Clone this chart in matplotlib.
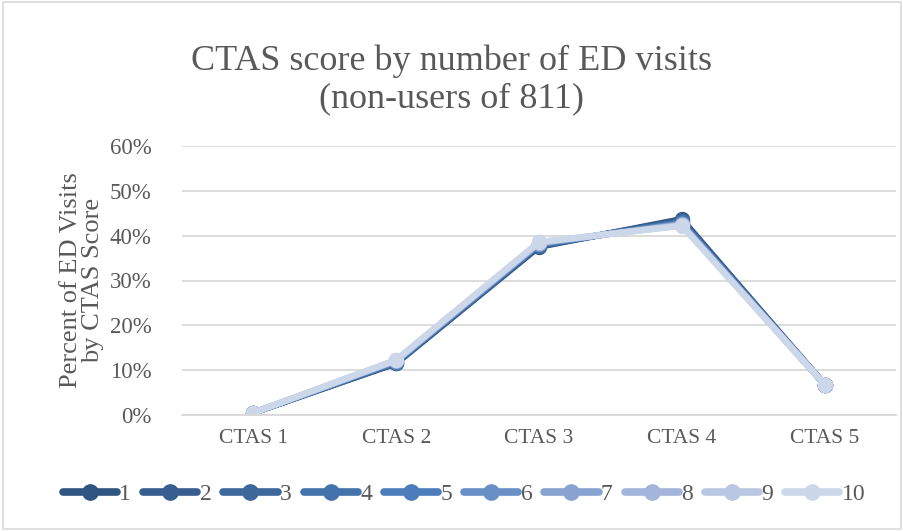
import matplotlib.pyplot as plt
from matplotlib.ticker import PercentFormatter

categories = ["CTAS 1", "CTAS 2", "CTAS 3", "CTAS 4", "CTAS 5"]
series_names = ["1", "2", "3", "4", "5", "6", "7", "8", "9", "10"]
s1 = [0.005, 0.115, 0.375, 0.437, 0.068]
s2 = [0.005, 0.116, 0.377, 0.434, 0.068]
s3 = [0.005, 0.117, 0.378, 0.432, 0.068]
s4 = [0.005, 0.118, 0.380, 0.430, 0.068]
s5 = [0.005, 0.119, 0.381, 0.428, 0.068]
s6 = [0.005, 0.120, 0.382, 0.427, 0.068]
s7 = [0.005, 0.121, 0.383, 0.425, 0.068]
s8 = [0.005, 0.122, 0.384, 0.424, 0.068]
s9 = [0.005, 0.122, 0.385, 0.423, 0.068]
s10 = [0.005, 0.123, 0.386, 0.422, 0.068]
series = [s1, s2, s3, s4, s5, s6, s7, s8, s9, s10]
colors = ["#2F5580", "#375E8E", "#3D689C", "#4472AA", "#4C7DBA",
          "#6990C6", "#88A3D0", "#A3B5DA", "#BAC7E2", "#CDD7EA"]

plt.rcParams['font.family'] = ['Liberation Serif', 'DejaVu Serif']
text_color = "#595959"

fig = plt.figure(figsize=(9.04, 5.31), dpi=100)
ax = fig.add_axes([182/904, 1-415/531, (896-182)/904, (415-146)/531])

x = list(range(len(categories)))
for name, vals, c in zip(series_names, series, colors):
    ax.plot(x, vals, color=c, lw=4.5, marker='o', ms=10, label=name,
            solid_capstyle='round', solid_joinstyle='round')

ax.set_xlim(-0.5, 4.5)
ax.set_ylim(0, 0.6)
ax.set_yticks([0, 0.1, 0.2, 0.3, 0.4, 0.5, 0.6])
ax.yaxis.set_major_formatter(PercentFormatter(1.0, decimals=0))
ax.set_xticks(x)
ax.set_xticklabels(categories)
ax.grid(axis='y', color='#D9D9D9', lw=1.3)
ax.set_axisbelow(True)
for sp in ax.spines.values():
    sp.set_visible(False)
ax.spines['bottom'].set_visible(True)
ax.spines['bottom'].set_color('#D9D9D9')
ax.spines['bottom'].set_linewidth(1.3)
ax.tick_params(length=0, labelsize=15.5, colors=text_color, pad=10)
ax.tick_params(axis='y', labelsize=16.5, pad=22)

ax.set_ylabel("Percent of ED Visits\nby CTAS Score", fontsize=19, color=text_color,
              linespacing=1.0, labelpad=4)

fig.text(0.5, 1-80/531, "CTAS score by number of ED visits\n(non-users of 811)",
         ha='center', va='center', fontsize=26, color=text_color, linespacing=1.2)

leg = fig.legend(loc='center', bbox_to_anchor=(464/904, 1-494/531), ncol=10, frameon=False,
                 fontsize=17, handlelength=2.3, handletextpad=0.1, columnspacing=0.5,
                 labelcolor=text_color)
for h in leg.get_lines():
    h.set_linewidth(5.5)
    h.set_markersize(11)

border = plt.Rectangle((0.003, 0.004), 0.994, 0.992, transform=fig.transFigure,
                       fill=False, edgecolor='#D9D9D9', lw=1.2)
fig.patches.append(border)

fig.savefig("out.png", dpi=100)
